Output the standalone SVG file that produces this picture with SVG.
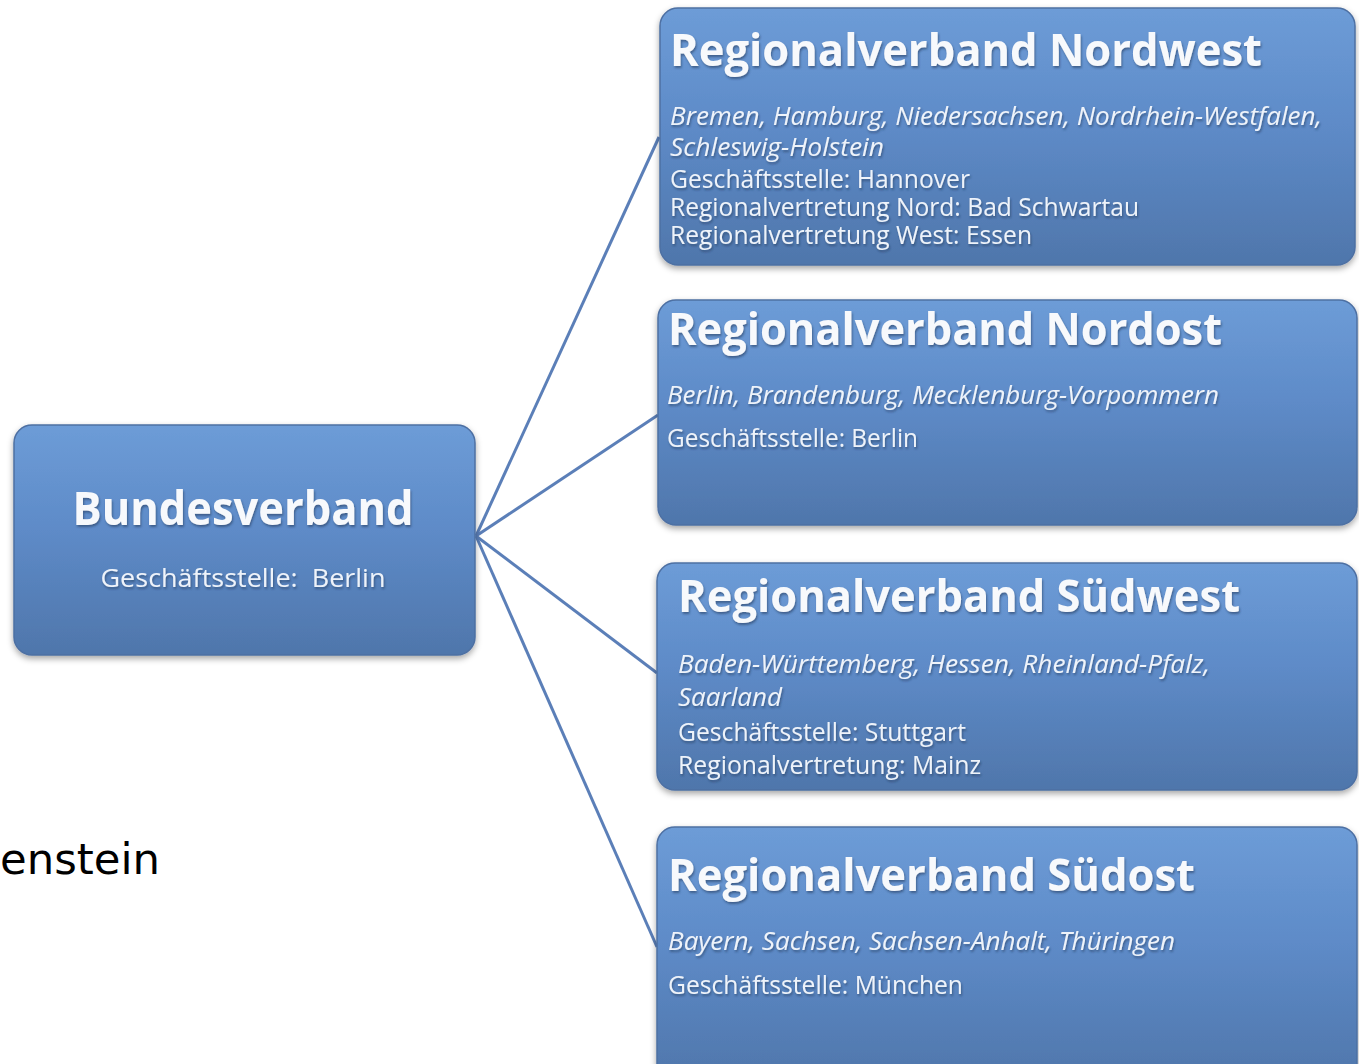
<svg xmlns="http://www.w3.org/2000/svg" width="1359" height="1064" viewBox="0 0 1359 1064">
<defs>
<linearGradient id="boxGrad" x1="0" y1="0" x2="0" y2="1">
<stop offset="0" stop-color="#6d9cd7"/>
<stop offset="0.45" stop-color="#5e8bc8"/>
<stop offset="1" stop-color="#4f76ab"/>
</linearGradient>
<filter id="boxShadow" x="-5%" y="-5%" width="110%" height="115%">
<feDropShadow dx="0" dy="3" stdDeviation="3" flood-color="#000" flood-opacity="0.35"/>
</filter>
<filter id="txtShadow" x="-5%" y="-20%" width="110%" height="150%">
<feDropShadow dx="1" dy="2" stdDeviation="1.2" flood-color="#1e3556" flood-opacity="0.55"/>
</filter>
</defs>
<style>
.box{fill:url(#boxGrad);stroke:#4d70a3;stroke-width:1.5;filter:url(#boxShadow)}
.title{font-family:"Open Sans","Noto Sans","Liberation Sans",sans-serif;font-weight:bold;fill:#f7f9fc;filter:url(#txtShadow)}
.body{font-family:"Open Sans","Noto Sans","Liberation Sans",sans-serif;font-size:25px;fill:#eef3fa;filter:url(#txtShadow)}
.it{font-style:italic}
.conn{stroke:#5b7fb8;stroke-width:3;fill:none}
.plain{font-family:"DejaVu Sans","Liberation Sans",sans-serif;font-size:43px;fill:#000}
</style>
<rect width="1359" height="1064" fill="#ffffff"/>

<g id="connectors">
<line class="conn" x1="476" y1="536" x2="659" y2="137"/>
<line class="conn" x1="476" y1="536" x2="658" y2="415"/>
<line class="conn" x1="476" y1="536" x2="657" y2="673"/>
<line class="conn" x1="476" y1="536" x2="657" y2="947"/>
</g>

<g id="bundesverband">
<rect class="box" x="14" y="425" width="461" height="230" rx="18"/>
<text class="title" x="243" y="525" font-size="46" text-anchor="middle" textLength="341" lengthAdjust="spacingAndGlyphs">Bundesverband</text>
<text class="body" x="243" y="587" font-size="26" text-anchor="middle" textLength="285" lengthAdjust="spacingAndGlyphs" xml:space="preserve">Geschäftsstelle:  Berlin</text>
</g>

<g id="nordwest">
<rect class="box" x="660" y="8" width="695" height="257" rx="18"/>
<text class="title" x="670" y="66" font-size="44" textLength="592" lengthAdjust="spacingAndGlyphs">Regionalverband Nordwest</text>
<text class="body it" x="670" y="125" textLength="652" lengthAdjust="spacingAndGlyphs">Bremen, Hamburg, Niedersachsen, Nordrhein-Westfalen,</text>
<text class="body it" x="670" y="156" textLength="214" lengthAdjust="spacingAndGlyphs">Schleswig-Holstein</text>
<text class="body" x="670" y="188" textLength="300" lengthAdjust="spacingAndGlyphs">Geschäftsstelle: Hannover</text>
<text class="body" x="670" y="216" textLength="469" lengthAdjust="spacingAndGlyphs">Regionalvertretung Nord: Bad Schwartau</text>
<text class="body" x="670" y="244" textLength="362" lengthAdjust="spacingAndGlyphs">Regionalvertretung West: Essen</text>
</g>

<g id="nordost">
<rect class="box" x="658" y="300" width="699" height="225" rx="18"/>
<text class="title" x="668" y="345" font-size="44" textLength="554" lengthAdjust="spacingAndGlyphs">Regionalverband Nordost</text>
<text class="body it" x="667" y="404" textLength="552" lengthAdjust="spacingAndGlyphs">Berlin, Brandenburg, Mecklenburg-Vorpommern</text>
<text class="body" x="667" y="447" textLength="251" lengthAdjust="spacingAndGlyphs">Geschäftsstelle: Berlin</text>
</g>

<g id="suedwest">
<rect class="box" x="657" y="563" width="700" height="227" rx="18"/>
<text class="title" x="678" y="612" font-size="44" textLength="562" lengthAdjust="spacingAndGlyphs">Regionalverband Südwest</text>
<text class="body it" x="678" y="673" textLength="532" lengthAdjust="spacingAndGlyphs">Baden-Württemberg, Hessen, Rheinland-Pfalz,</text>
<text class="body it" x="678" y="706" textLength="104" lengthAdjust="spacingAndGlyphs">Saarland</text>
<text class="body" x="678" y="741" textLength="288" lengthAdjust="spacingAndGlyphs">Geschäftsstelle: Stuttgart</text>
<text class="body" x="678" y="774" textLength="303" lengthAdjust="spacingAndGlyphs">Regionalvertretung: Mainz</text>
</g>

<g id="suedost">
<rect class="box" x="657" y="827" width="700" height="255" rx="18"/>
<text class="title" x="668" y="891" font-size="44" textLength="527" lengthAdjust="spacingAndGlyphs">Regionalverband Südost</text>
<text class="body it" x="668" y="950" textLength="507" lengthAdjust="spacingAndGlyphs">Bayern, Sachsen, Sachsen-Anhalt, Thüringen</text>
<text class="body" x="668" y="994" textLength="295" lengthAdjust="spacingAndGlyphs">Geschäftsstelle: München</text>
</g>

<text class="plain" x="0" y="874" textLength="160" lengthAdjust="spacingAndGlyphs">enstein</text>
</svg>
